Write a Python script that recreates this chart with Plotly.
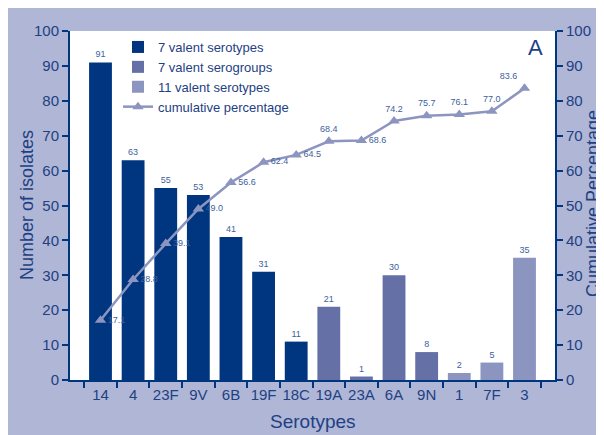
import plotly.graph_objects as go

categories = ["14", "4", "23F", "9V", "6B", "19F", "18C", "19A", "23A", "6A", "9N", "1", "7F", "3"]
isolates = [91, 63, 55, 53, 41, 31, 11, 21, 1, 30, 8, 2, 5, 35]
groups = ["7 valent serotypes"] * 7 + ["7 valent serogroups"] * 4 + ["11 valent serotypes"] * 3
cumulative = [17.1, 28.8, 39.1, 49.0, 56.6, 62.4, 64.5, 68.4, 68.6, 74.2, 75.7, 76.1, 77.0, 83.6]
cum_text_pos = ["middle right", "middle right", "middle right", "middle right", "middle right",
                "middle right", "middle right", "top center", "middle right", "top center",
                "top center", "top center", "top center", "top left"]
y_ticks = [0, 10, 20, 30, 40, 50, 60, 70, 80, 90, 100]

group_colors = {
    "7 valent serotypes": "#00367f",
    "7 valent serogroups": "#6470a6",
    "11 valent serotypes": "#8c95c0",
}
text_col = "#1e4183"
label_col = "#3d5f9e"
line_col = "#8c95c0"
font_fam = "Liberation Sans, Arial, sans-serif"

fig = go.Figure()
for g, col in group_colors.items():
    xs = [c for c, gg in zip(categories, groups) if gg == g]
    ys = [v for v, gg in zip(isolates, groups) if gg == g]
    fig.add_trace(go.Bar(
        x=xs, y=ys, name=g, marker=dict(color=col, line=dict(width=0)),
        width=0.7, text=ys, textposition="outside", cliponaxis=False,
        textfont=dict(size=9, color=label_col, family=font_fam),
    ))

fig.add_trace(go.Scatter(
    x=categories, y=cumulative, name="cumulative percentage", yaxis="y2",
    mode="lines+markers+text",
    line=dict(color=line_col, width=2.5),
    marker=dict(symbol="triangle-up", size=10, color=line_col),
    text=[f"{v:.1f}" for v in cumulative], textposition=cum_text_pos,
    textfont=dict(size=9, color=label_col, family=font_fam),
    cliponaxis=False,
))

axis_common = dict(
    range=[0, 100], tickvals=y_ticks, showgrid=False, zeroline=False,
    showline=True, linecolor="#00357f", linewidth=2,
    ticks="outside", ticklen=6, tickwidth=2, tickcolor="#00357f",
    tickfont=dict(size=15, color=text_col, family=font_fam),
    automargin=False,
)

# figure pixel -> paper coordinates (plot area: x 62..547, y 23..372 px)
def px_x(p):
    return (p - 62) / 485.0

def px_y(p):
    return (372 - p) / 349.0

def ann(x, y, text, size, angle=0):
    return dict(x=px_x(x), y=px_y(y), xref="paper", yref="paper", text=text,
                xanchor="center", yanchor="middle", textangle=angle,
                showarrow=False, font=dict(size=size, color=text_col, family=font_fam))

fig.update_layout(
    width=604, height=435,
    margin=dict(l=62, r=57, t=23, b=63, autoexpand=False),
    paper_bgcolor="#b0b6d6", plot_bgcolor="white",
    barmode="relative",
    font=dict(family=font_fam, color=text_col),
    xaxis=dict(
        categoryorder="array", categoryarray=categories,
        showline=True, linecolor="#00357f", linewidth=2, showgrid=False,
        ticks="outside", tickson="boundaries", ticklen=6, tickwidth=2, tickcolor="#00357f",
        tickangle=0, automargin=False,
        tickfont=dict(size=15, color=text_col, family=font_fam),
    ),
    yaxis=dict(**axis_common),
    yaxis2=dict(**axis_common, overlaying="y", side="right"),
    legend=dict(x=px_x(110), y=px_y(24), xanchor="left", yanchor="top",
                bgcolor="rgba(0,0,0,0)", font=dict(size=13, color=text_col, family=font_fam),
                tracegroupgap=0, itemwidth=30),
    showlegend=True,
    annotations=[
        ann(527, 39, "A", 22),
        ann(305, 413, "Serotypes", 19),
        ann(19, 197, "Number of isolates", 18, -90),
        ann(585, 196, "Cumulative Percentage", 18, -90),
    ],
)

fig.write_html("out.html")
